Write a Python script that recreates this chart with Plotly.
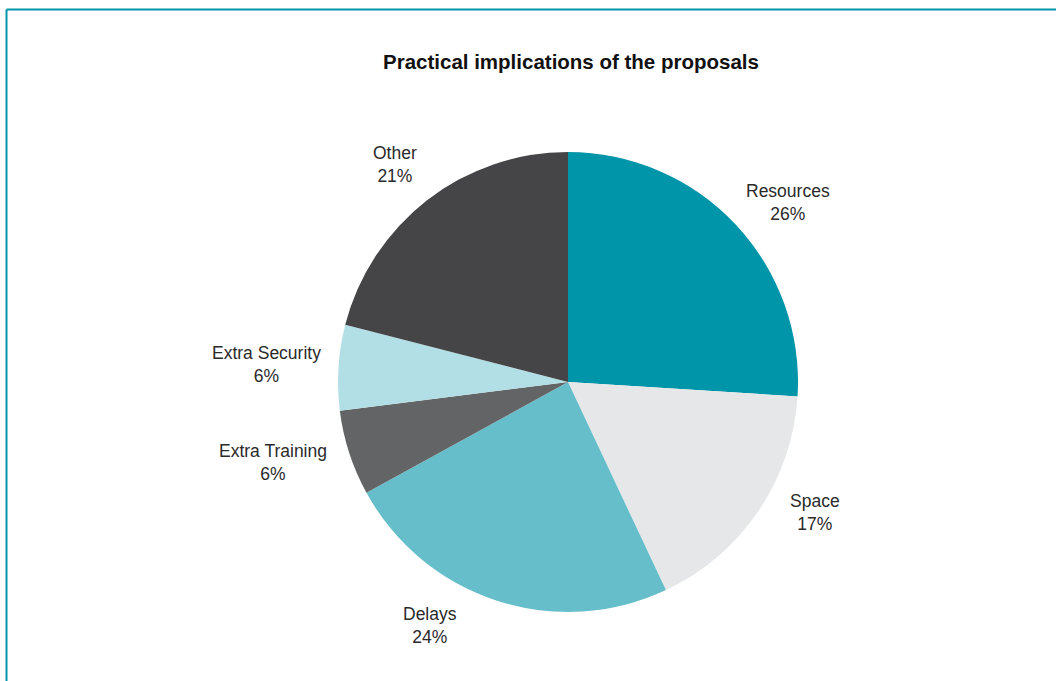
import math
import plotly.graph_objects as go

# Data
categories = ["Resources", "Space", "Delays", "Extra Training", "Extra Security", "Other"]
shares = [26, 17, 24, 6, 6, 21]
colors = ["#0095A8", "#E6E7E8", "#66BECB", "#636466", "#B2DFE5", "#454547"]

W, H = 1056, 681
CX, CY, R = 568, 382, 230          # pie centre and radius in pixels
LABEL_DIST = 285                    # label centre distance from pie centre
# small per-label nudges (px) so labels sit clear of each other
label_nudge = {
    "Resources": (12, 16),
    "Space": (11, -30),
    "Delays": (-50, -28),
    "Extra Training": (-24, -8),
    "Extra Security": (-17, 0),
    "Other": (2, 8),
}

fig = go.Figure(
    go.Pie(
        labels=categories,
        values=shares,
        marker=dict(colors=colors, line=dict(width=0)),
        sort=False,
        direction="clockwise",
        rotation=0,
        textinfo="none",
        hoverinfo="label+percent",
        showlegend=False,
        domain=dict(
            x=[(CX - R) / W, (CX + R) / W],
            y=[(H - CY - R) / H, (H - CY + R) / H],
        ),
    )
)

# Labels placed along each slice's mid-angle
total = sum(shares)
cum = 0
annotations = []
for name, v in zip(categories, shares):
    mid = (cum + v / 2) / total * 2 * math.pi
    cum += v
    dx, dy = label_nudge[name]
    px = CX + LABEL_DIST * math.sin(mid) + dx
    py = CY - LABEL_DIST * math.cos(mid) + dy
    pct = round(v / total * 100)
    annotations.append(
        dict(
            x=px / W, y=1 - py / H, xref="paper", yref="paper",
            text=f"{name}<br>{pct}%", showarrow=False,
            xanchor="center", yanchor="middle", align="center",
            font=dict(family="Liberation Sans, Arial, sans-serif", size=17.5, color="#2a2a2a"),
        )
    )

annotations.append(
    dict(
        x=571 / W, y=1 - 61 / H, xref="paper", yref="paper",
        text="<b>Practical implications of the proposals</b>", showarrow=False,
        xanchor="center", yanchor="middle",
        font=dict(family="Liberation Sans, Arial, sans-serif", size=20.5, color="#111111"),
    )
)

# Frame lines along the top and left edges
frame_color = "#0096A8"
shapes = [
    dict(type="line", xref="paper", yref="paper", x0=6.5 / W, x1=1, y0=1 - 9.5 / H, y1=1 - 9.5 / H,
         line=dict(color=frame_color, width=2)),
    dict(type="line", xref="paper", yref="paper", x0=6.5 / W, x1=6.5 / W, y0=0, y1=1 - 9.5 / H,
         line=dict(color=frame_color, width=2)),
]

fig.update_layout(
    width=W, height=H,
    margin=dict(l=0, r=0, t=0, b=0),
    paper_bgcolor="white",
    plot_bgcolor="white",
    annotations=annotations,
    shapes=shapes,
)

fig.write_html("out.html")
